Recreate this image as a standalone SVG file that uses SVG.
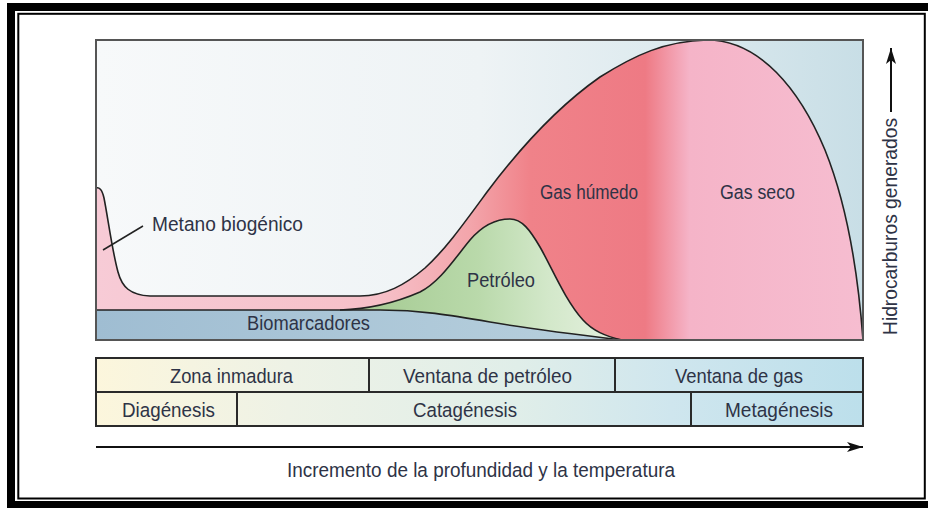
<svg xmlns="http://www.w3.org/2000/svg" width="928" height="508" viewBox="0 0 928 508">
<defs>
<linearGradient id="bgG" gradientUnits="userSpaceOnUse" x1="96" y1="0" x2="863" y2="0">
<stop offset="0" stop-color="#f7f9fa"/><stop offset="0.5" stop-color="#eef3f5"/><stop offset="0.8" stop-color="#d9e8ed"/><stop offset="1" stop-color="#c8dee6"/>
</linearGradient>
<linearGradient id="pinkG" gradientUnits="userSpaceOnUse" x1="96" y1="0" x2="863" y2="0">
<stop offset="0" stop-color="#f7cbd6"/><stop offset="0.37" stop-color="#f6c0c8"/><stop offset="0.488" stop-color="#f3a5ab"/><stop offset="0.566" stop-color="#f08289"/><stop offset="0.716" stop-color="#ee7a84"/><stop offset="0.774" stop-color="#f5b4c8"/><stop offset="1" stop-color="#f6bdd0"/>
</linearGradient>
<linearGradient id="greenG" gradientUnits="userSpaceOnUse" x1="380" y1="0" x2="622" y2="0">
<stop offset="0" stop-color="#a8cd96"/><stop offset="0.4" stop-color="#b9d9aa"/><stop offset="0.7" stop-color="#d3e8ca"/><stop offset="1" stop-color="#e6f1e1"/>
</linearGradient>
<linearGradient id="bioG" gradientUnits="userSpaceOnUse" x1="96" y1="0" x2="622" y2="0">
<stop offset="0" stop-color="#9fbdd2"/><stop offset="1" stop-color="#b8d0dd"/>
</linearGradient>
<linearGradient id="tabG" gradientUnits="userSpaceOnUse" x1="96" y1="0" x2="863" y2="0">
<stop offset="0" stop-color="#fcf6dc"/><stop offset="0.25" stop-color="#eef2e6"/><stop offset="0.55" stop-color="#e0eee9"/><stop offset="0.75" stop-color="#cfe6ee"/><stop offset="1" stop-color="#bcdfeb"/>
</linearGradient>
<marker id="ah" viewBox="0 0 16 10" refX="16" refY="5" markerWidth="16" markerHeight="10" markerUnits="userSpaceOnUse" orient="auto">
<path d="M0,0 L16,5 L0,10 L4,5 Z" fill="#111"/>
</marker>
</defs>
<style>
.t{font-family:"Liberation Sans",Arial,sans-serif;font-size:20.5px;fill:#2e3346;text-anchor:middle}
.cv{fill:none;stroke:#222;stroke-width:1.6}
.tb{fill:none;stroke:#2a2a2a;stroke-width:2}
</style>
<rect x="0" y="0" width="928" height="508" fill="#fff"/>
<g id="frame">
<rect x="11" y="7" width="930" height="498" fill="none" stroke="#000" stroke-width="8"/>
<rect x="18.3" y="13.8" width="906.5" height="484.7" fill="none" stroke="#000" stroke-width="2"/>
</g>
<g id="chart">
<rect x="96" y="40" width="767" height="300" fill="url(#bgG)"/>
<path id="gas" fill="url(#pinkG)" d="M96,188 C99,187 102,189 104,198 C108,218 112,250 118,272 C122,287 130,295 150,296 L360,296 C385,296 405,285 425,268 C445,250 465,222 487,192 C520,148 560,105 600,77 C635,55 665,41 707,40 C760,40 800,90 825,150 C846,202 858,272 863,340 L96,340 Z"/>
<path id="petroleo" fill="url(#greenG)" d="M340,310 C370,309 395,303 420,292 C440,282 455,258 470,240 C482,226 495,219 510,219 C522,219 530,230 540,247 C552,268 565,300 583,320 C593,331 605,336 622,340 C580,335 530,329 490,322 C450,315 420,310 380,310 Z"/>
<path id="biomarcadores" fill="url(#bioG)" d="M96,310 L380,310 C420,310 450,315 490,322 C530,329 580,335 622,340 L96,340 Z"/>
<path class="cv" d="M96,188 C99,187 102,189 104,198 C108,218 112,250 118,272 C122,287 130,295 150,296 L360,296 C385,296 405,285 425,268 C445,250 465,222 487,192 C520,148 560,105 600,77 C635,55 665,41 707,40 C760,40 800,90 825,150 C846,202 858,272 863,340"/>
<path class="cv" d="M340,310 C370,309 395,303 420,292 C440,282 455,258 470,240 C482,226 495,219 510,219 C522,219 530,230 540,247 C552,268 565,300 583,320 C593,331 605,336 622,340"/>
<path class="cv" d="M96,310 L380,310 C420,310 450,315 490,322 C530,329 580,335 622,340"/>
<rect x="96" y="40" width="767" height="300" fill="none" stroke="#555" stroke-width="2"/>
<line x1="103" y1="250" x2="143" y2="226" stroke="#222" stroke-width="1.5"/>
<text class="t" x="227.5" y="231" textLength="151" lengthAdjust="spacingAndGlyphs">Metano biogénico</text>
<text class="t" x="308.5" y="330" textLength="123" lengthAdjust="spacingAndGlyphs">Biomarcadores</text>
<text class="t" x="501" y="287" textLength="68" lengthAdjust="spacingAndGlyphs">Petróleo</text>
<text class="t" x="589" y="199" textLength="98" lengthAdjust="spacingAndGlyphs">Gas húmedo</text>
<text class="t" x="757.5" y="199" textLength="75" lengthAdjust="spacingAndGlyphs">Gas seco</text>
</g>
<g id="table">
<rect x="96" y="358" width="767" height="68" fill="url(#tabG)"/>
<g id="zona-inmadura"><text class="t" x="231.5" y="383" textLength="123" lengthAdjust="spacingAndGlyphs">Zona inmadura</text></g>
<g id="ventana-petroleo"><text class="t" x="487.5" y="383" textLength="169" lengthAdjust="spacingAndGlyphs">Ventana de petróleo</text></g>
<g id="ventana-gas"><text class="t" x="739" y="383" textLength="128" lengthAdjust="spacingAndGlyphs">Ventana de gas</text></g>
<g id="diagenesis"><text class="t" x="168.5" y="417" textLength="93" lengthAdjust="spacingAndGlyphs">Diagénesis</text></g>
<g id="catagenesis"><text class="t" x="465" y="417" textLength="104" lengthAdjust="spacingAndGlyphs">Catagénesis</text></g>
<g id="metagenesis"><text class="t" x="779" y="417" textLength="108" lengthAdjust="spacingAndGlyphs">Metagénesis</text></g>
<rect class="tb" x="96" y="358" width="767" height="68"/>
<line class="tb" x1="96" y1="392" x2="863" y2="392"/>
<line class="tb" x1="369" y1="358" x2="369" y2="392"/>
<line class="tb" x1="615" y1="358" x2="615" y2="392"/>
<line class="tb" x1="237" y1="392" x2="237" y2="426"/>
<line class="tb" x1="691" y1="392" x2="691" y2="426"/>
</g>
<g id="connectors">
<line x1="96" y1="447" x2="863" y2="447" stroke="#111" stroke-width="2" marker-end="url(#ah)"/>
<line x1="891" y1="112" x2="891" y2="48" stroke="#111" stroke-width="2" marker-end="url(#ah)"/>
</g>
<g id="axis-labels">
<text class="t" x="481" y="477" textLength="388" lengthAdjust="spacingAndGlyphs">Incremento de la profundidad y la temperatura</text>
<text class="t" transform="translate(897,226.5) rotate(-90)" x="0" y="0" textLength="217" lengthAdjust="spacingAndGlyphs">Hidrocarburos generados</text>
</g>
</svg>
